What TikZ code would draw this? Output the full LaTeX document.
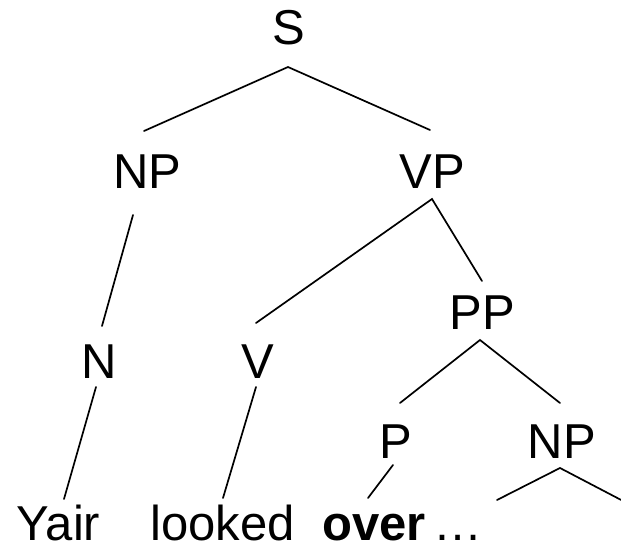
\documentclass[tikz,border=0pt]{standalone}
\usepackage{fontspec}
\setmainfont{Liberation Sans}
\begin{document}
\begin{tikzpicture}[x=1pt,y=-1pt,
  lbl/.style={anchor=base,inner sep=0pt,text depth=0pt,font=\fontsize{49}{58}\selectfont},
  branch/.style={line width=1.7pt,line cap=round}]
\useasboundingbox (0,0) rectangle (621,545);
% category labels
\node[lbl] (S)   at (289,45)  {S};
\node[lbl] (NP)  at (147.5,189) {NP};
\node[lbl] (VP)  at (432.5,189) {VP};
\node[lbl] (N)   at (99,378)  {N};
\node[lbl] (V)   at (258,378) {V};
\node[lbl] (PP)  at (482,329) {PP};
\node[lbl] (P)   at (396,458) {P};
\node[lbl] (NP2) at (562,458) {NP};
% words
\node[lbl] (w1) at (58.5,540) {Yair};
\node[lbl] (w2) at (222.5,540) {looked};
\node[lbl,anchor=base west] (w3) at (322,540) {\bfseries over};
\node[lbl,anchor=base west] (w4) at (433,540) {\dots};
% branch ends
\coordinate (S-top)  at (288,67);
\coordinate (S-l)    at (144,131);
\coordinate (S-r)    at (430,130);
\coordinate (NP-a)   at (133,215);
\coordinate (NP-b)   at (102,326);
\coordinate (VP-top) at (432,199);
\coordinate (VP-l)   at (256,323);
\coordinate (VP-r)   at (482,281);
\coordinate (PP-top) at (480,340);
\coordinate (PP-l)   at (400,403);
\coordinate (PP-r)   at (560,403);
\coordinate (N-a)    at (96,387);
\coordinate (N-b)    at (64,499);
\coordinate (V-a)    at (256,387);
\coordinate (V-b)    at (223,498);
\coordinate (P-a)    at (393,465);
\coordinate (P-b)    at (368,498);
\coordinate (NP2-top) at (560,468);
\coordinate (NP2-l)  at (497,500);
\coordinate (NP2-r)  at (625,502);
% branches
\draw[branch] (S-l) -- (S-top) -- (S-r);
\draw[branch] (NP-a) -- (NP-b);
\draw[branch] (VP-l) -- (VP-top) -- (VP-r);
\draw[branch] (PP-l) -- (PP-top) -- (PP-r);
\draw[branch] (N-a) -- (N-b);
\draw[branch] (V-a) -- (V-b);
\draw[branch] (P-a) -- (P-b);
\draw[branch] (NP2-l) -- (NP2-top) -- (NP2-r);
\end{tikzpicture}
\end{document}
